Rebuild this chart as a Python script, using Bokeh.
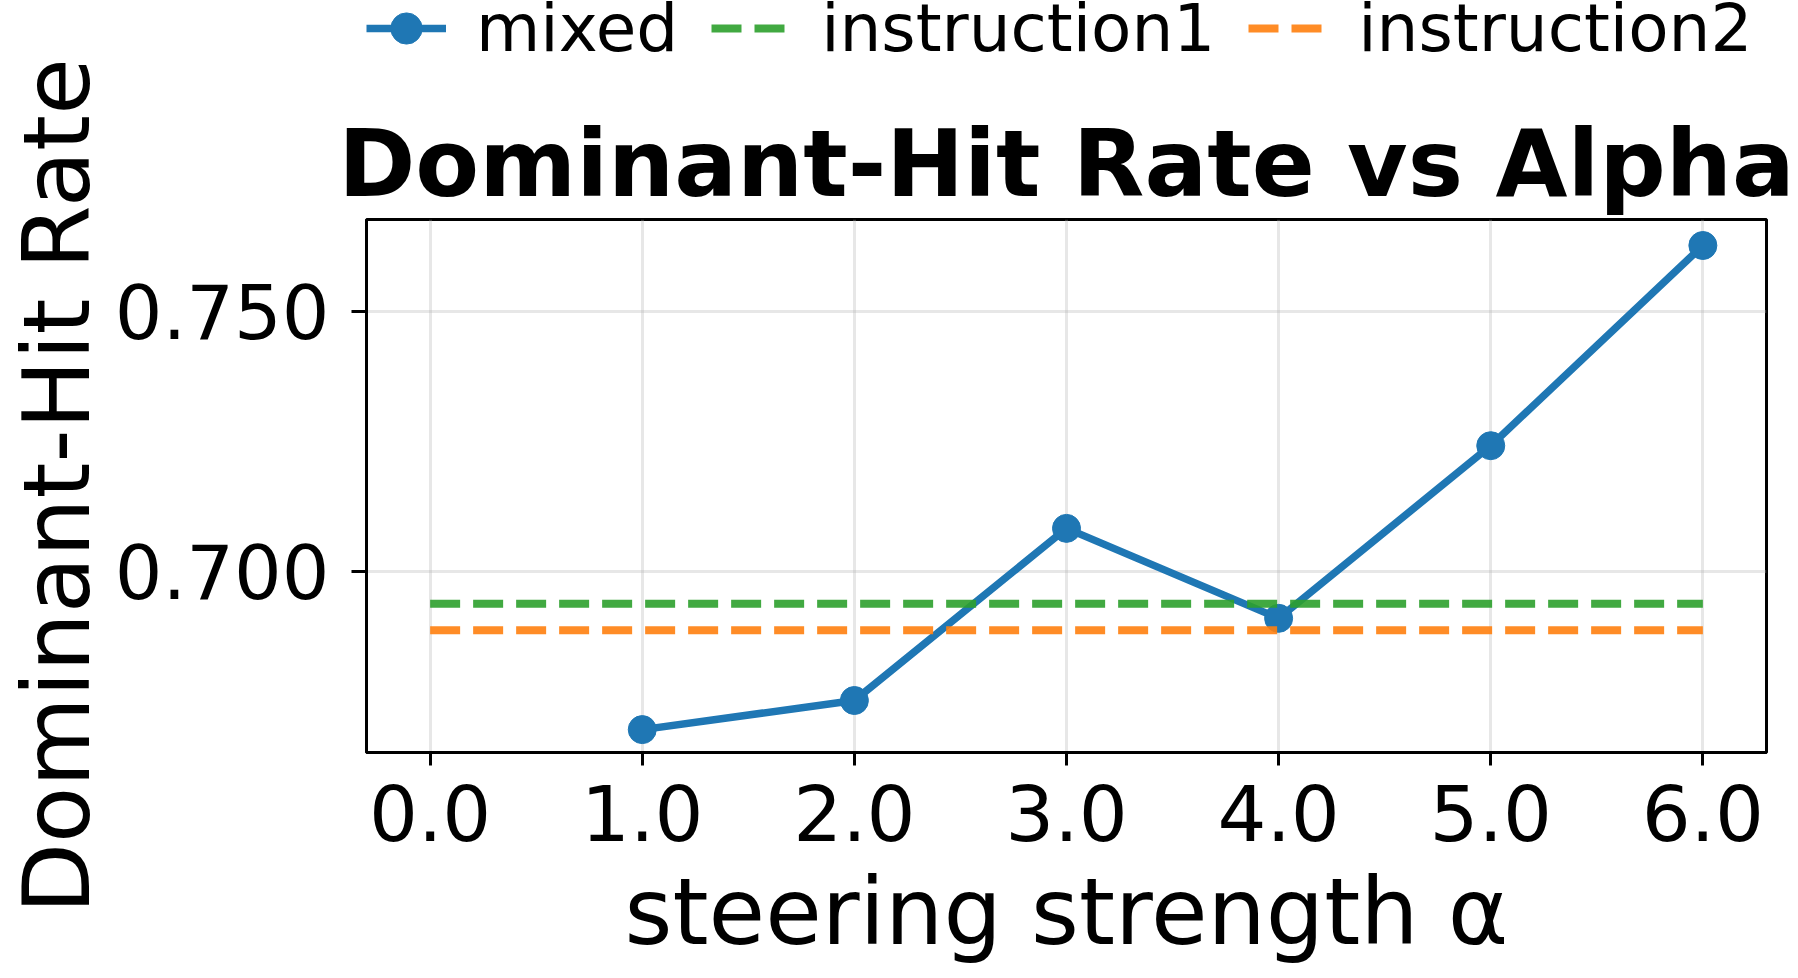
from bokeh.plotting import figure
from bokeh.layouts import column
from bokeh.models import Range1d, FixedTicker, NumeralTickFormatter, Legend, LegendItem
from bokeh.embed import file_html
from bokeh.resources import INLINE

# ---- data ----
alpha = [1.0, 2.0, 3.0, 4.0, 5.0, 6.0]
mixed = [0.6696, 0.6752, 0.7083, 0.6910, 0.7242, 0.7627]
baseline_x = [0.0, 6.0]
instruction1 = [0.6938, 0.6938]
instruction2 = [0.6887, 0.6887]
x_ticks = [0.0, 1.0, 2.0, 3.0, 4.0, 5.0, 6.0]
y_ticks = [0.700, 0.750]

FONT = "DejaVu Sans"
BLUE = "#1f77b4"
GREEN = "#2ca02c"
ORANGE = "#ff7f0e"
LEG_H = 56


def add_series(fig):
    r_line = fig.line(alpha, mixed, line_color=BLUE, line_width=7.5)
    r_pts = fig.scatter(alpha, mixed, size=28, fill_color=BLUE, line_color=BLUE)
    r_i1 = fig.line(baseline_x, instruction1, line_color=GREEN, line_width=8,
                    line_dash="30 13", line_alpha=0.9)
    r_i2 = fig.line(baseline_x, instruction2, line_color=ORANGE, line_width=8,
                    line_dash="30 13", line_alpha=0.9)
    return r_line, r_pts, r_i1, r_i2


# ---------- main chart ----------
p = figure(frame_width=1400, frame_height=533,
           output_backend="svg", toolbar_location=None,
           x_range=Range1d(-0.3, 6.3), y_range=Range1d(0.6652, 0.7677),
           min_border_left=356, min_border_right=26,
           min_border_top=219 - LEG_H, min_border_bottom=223)

p.background_fill_color = "white"
p.border_fill_color = "white"
p.outline_line_color = "black"
p.outline_line_width = 3

p.title.text = "Dominant-Hit Rate vs Alpha"
p.title.align = "center"
p.title.text_font = FONT
p.title.text_font_size = "93px"
p.title.text_font_style = "bold"
p.title.text_color = "black"
p.title.standoff = 3

p.xgrid.ticker = FixedTicker(ticks=x_ticks)
p.ygrid.ticker = FixedTicker(ticks=y_ticks)
for g in (p.xgrid, p.ygrid):
    g.grid_line_color = "#b0b0b0"
    g.grid_line_alpha = 0.3
    g.grid_line_width = 3

p.xaxis.ticker = FixedTicker(ticks=x_ticks)
p.yaxis.ticker = FixedTicker(ticks=y_ticks)
p.xaxis.formatter = NumeralTickFormatter(format="0.0")
p.yaxis.formatter = NumeralTickFormatter(format="0.000")
p.xaxis.axis_label = "steering strength α"
p.yaxis.axis_label = "Dominant-Hit Rate"
for ax in (p.xaxis, p.yaxis):
    ax.axis_line_color = "black"
    ax.axis_line_width = 3
    ax.major_tick_line_color = "black"
    ax.major_tick_line_width = 3
    ax.major_tick_in = 0
    ax.minor_tick_line_color = None
    ax.major_label_text_font = FONT
    ax.major_label_text_color = "black"
    ax.axis_label_text_font = FONT
    ax.axis_label_text_font_size = "92px"
    ax.axis_label_text_font_style = "normal"
    ax.axis_label_text_color = "black"
p.xaxis.major_label_text_font_size = "77px"
p.yaxis.major_label_text_font_size = "75px"
p.xaxis.major_tick_out = 13
p.yaxis.major_tick_out = 15
p.xaxis.major_label_standoff = 19
p.yaxis.major_label_standoff = 22
p.xaxis.axis_label_standoff = 15
p.yaxis.axis_label_standoff = 1

add_series(p)

# ---------- legend strip above the chart ----------
lf = figure(width=1782, height=LEG_H, output_backend="svg", toolbar_location=None,
            x_axis_type=None, y_axis_type=None,
            x_range=Range1d(100, 101), y_range=Range1d(100, 101),
            min_border=0)
lf.title.text = ""
lf.outline_line_color = None
lf.background_fill_color = "white"
lf.border_fill_color = "white"
l_line, l_pts, l_i1, l_i2 = add_series(lf)

legend = Legend(items=[LegendItem(label="mixed", renderers=[l_line, l_pts]),
                       LegendItem(label="instruction1", renderers=[l_i1]),
                       LegendItem(label="instruction2", renderers=[l_i2])],
                orientation="horizontal", location=(0, -11),
                glyph_width=80, glyph_height=78, label_height=78,
                label_standoff=30, spacing=33, padding=0, margin=0,
                border_line_alpha=0, background_fill_alpha=0,
                label_text_font=FONT, label_text_font_size="66px",
                label_text_color="black")
lf.add_layout(legend)

layout = column(lf, p, spacing=0)
open("out.html", "w").write(file_html(layout, INLINE))
